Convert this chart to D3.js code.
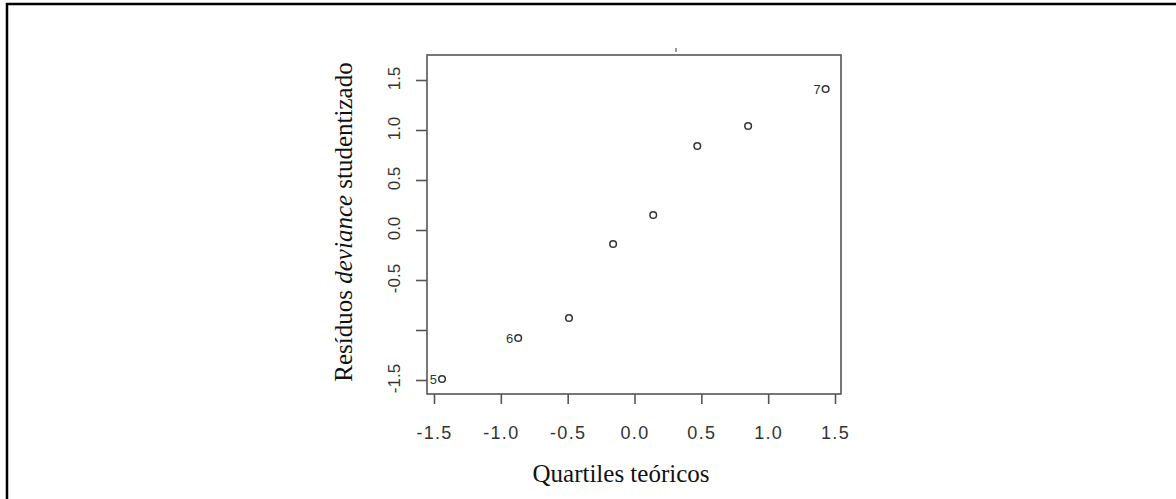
<!DOCTYPE html>
<html>
<head>
<meta charset="utf-8">
<script src="https://cdn.jsdelivr.net/npm/d3@7"></script>
<style>
  html, body { margin: 0; padding: 0; background: #fff; }
  svg { display: block; }
</style>
</head>
<body>
<svg id="chart" width="1176" height="499"></svg>
<script>
// Normal Q-Q plot of studentized deviance residuals
const theoreticalQuantiles = [-1.44, -0.87, -0.49, -0.16, 0.14, 0.47, 0.85, 1.43];
const devianceResiduals    = [-1.49, -1.08, -0.88, -0.14, 0.15, 0.84, 1.04, 1.41];
const pointLabels          = ["5", "6", "", "", "", "", "", "7"];

const xTickValues = [-1.5, -1.0, -0.5, 0.0, 0.5, 1.0, 1.5];
const xTickLabels = ["-1.5", "-1.0", "-0.5", "0.0", "0.5", "1.0", "1.5"];
const yTickValues = [-1.5, -1.0, -0.5, 0.0, 0.5, 1.0, 1.5];
const yTickLabels = ["-1.5", "", "-0.5", "0.0", "0.5", "1.0", "1.5"];

const xTitle = "Quartiles teóricos";
const yTitleParts = [
  { text: "Resíduos ", italic: false },
  { text: "deviance", italic: true },
  { text: " studentizado", italic: false }
];

const svg = d3.select("#chart");
const axisColor = "#555";
const textColor = "#333";

// plotting region (box) and data scales
const box = { left: 427, right: 841, top: 55, bottom: 394 };
const x = d3.scaleLinear().domain([-1.5, 1.5]).range([434, 835]);
const y = d3.scaleLinear().domain([-1.5, 1.5]).range([380, 80]);

// outer frame (top and left edges)
svg.append("line").attr("x1", 6).attr("x2", 1176).attr("y1", 4).attr("y2", 4)
  .attr("stroke", "#000").attr("stroke-width", 2.5);
svg.append("line").attr("x1", 7).attr("x2", 7).attr("y1", 3).attr("y2", 499)
  .attr("stroke", "#000").attr("stroke-width", 2.5);

// small mark above the plot box
svg.append("line").attr("x1", 676).attr("x2", 676).attr("y1", 48).attr("y2", 52)
  .attr("stroke", "#555").attr("stroke-width", 1.2);

// plot box
svg.append("rect")
  .attr("x", box.left).attr("y", box.top)
  .attr("width", box.right - box.left).attr("height", box.bottom - box.top)
  .attr("fill", "none").attr("stroke", axisColor).attr("stroke-width", 1.6);

// x axis
const gx = svg.append("g")
  .attr("transform", `translate(0,${box.bottom})`)
  .call(d3.axisBottom(x).tickValues(xTickValues).tickSize(10)
    .tickFormat((d, i) => xTickLabels[i]));
gx.select(".domain").remove();
gx.selectAll(".tick line").attr("stroke", axisColor).attr("stroke-width", 1.6);
gx.selectAll(".tick text")
  .attr("y", 45).attr("dy", null)
  .attr("fill", textColor)
  .style("font-family", "'Liberation Sans', Arial, sans-serif")
  .style("font-size", "18px")
  .style("letter-spacing", "1.3px");

// y axis
const gy = svg.append("g")
  .attr("transform", `translate(${box.left},0)`)
  .call(d3.axisLeft(y).tickValues(yTickValues).tickSize(11)
    .tickFormat((d, i) => yTickLabels[i]));
gy.select(".domain").remove();
gy.selectAll(".tick line").attr("stroke", axisColor).attr("stroke-width", 1.6);
gy.selectAll(".tick text")
  .attr("x", null).attr("dy", null)
  .attr("transform", "translate(-27,-2) rotate(-90)")
  .attr("text-anchor", "middle")
  .attr("fill", textColor)
  .style("font-family", "'Liberation Sans', Arial, sans-serif")
  .style("font-size", "17px");

// points
svg.append("g").selectAll("circle")
  .data(theoreticalQuantiles)
  .join("circle")
  .attr("cx", d => x(d))
  .attr("cy", (d, i) => y(devianceResiduals[i]))
  .attr("r", 3.3)
  .attr("fill", "none")
  .attr("stroke", "#333")
  .attr("stroke-width", 1.5);

// identified points
svg.append("g").selectAll("text")
  .data(theoreticalQuantiles)
  .join("text")
  .attr("x", d => x(d) - 5)
  .attr("y", (d, i) => y(devianceResiduals[i]) + 5)
  .attr("text-anchor", "end")
  .attr("fill", textColor)
  .style("font-family", "'Liberation Sans', Arial, sans-serif")
  .style("font-size", "13px")
  .text((d, i) => pointLabels[i]);

// axis titles
svg.append("text")
  .attr("x", 621).attr("y", 482)
  .attr("text-anchor", "middle")
  .attr("fill", "#111")
  .style("font-family", "'Liberation Serif', 'Times New Roman', serif")
  .style("font-size", "25px")
  .text(xTitle);

const yTitle = svg.append("text")
  .attr("transform", "translate(352,222) rotate(-90)")
  .attr("text-anchor", "middle")
  .attr("fill", "#111")
  .style("font-family", "'Liberation Serif', 'Times New Roman', serif")
  .style("font-size", "25px");
yTitle.selectAll("tspan")
  .data(yTitleParts)
  .join("tspan")
  .style("font-style", d => d.italic ? "italic" : "normal")
  .text(d => d.text);
</script>
</body>
</html>
